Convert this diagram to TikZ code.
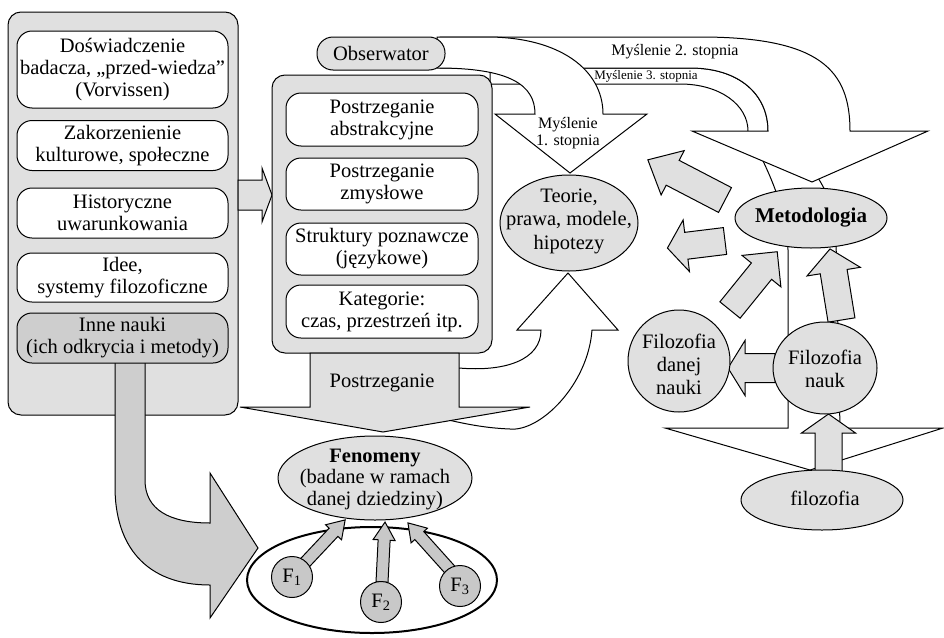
\documentclass[tikz,border=0pt]{standalone}
\usepackage{fontspec}
\setmainfont{Liberation Serif}
\usetikzlibrary{shapes.geometric}
\definecolor{lg}{RGB}{224,224,224}
\definecolor{mg}{RGB}{206,206,206}
\definecolor{fg}{RGB}{200,200,200}
\tikzset{
  base/.style={line width=1pt, draw=black},
  bigbox/.style={base, fill=lg, rounded corners=13pt, inner sep=0pt},
  ibox/.style={base, fill=white, rounded corners=15pt, align=center, inner sep=1pt, minimum width=211pt},
  pbox/.style={base, fill=white, rounded corners=15pt, align=center, inner sep=1pt, minimum width=192pt},
  ell/.style={base, ellipse, fill=lg, inner sep=0pt},
  txt/.style={align=center, inner sep=0pt},
  garr/.style={base, fill=lg, line join=miter},
  warr/.style={base, fill=white, line join=miter},
  farr/.style={base, fill=fg, line join=miter},
}
\newcommand\grarrow[8]{%
  \begin{scope}[shift={(#2,#3)},rotate=#4]
    \filldraw[#1] (0,-#6) -- ({#5-#8},-#6) -- ({#5-#8},-#7) -- (#5,0) -- ({#5-#8},#7) -- ({#5-#8},#6) -- (0,#6) -- cycle;
  \end{scope}}
\begin{document}
\begin{tikzpicture}[x=1pt,y=-1pt,font=\fontsize{20.5}{22}\selectfont]
\useasboundingbox (0,0) rectangle (944,637);

% ---------- left column
\node[bigbox, minimum width=230pt, minimum height=403pt] (left) at (123,213.5) {};
\node[ibox, minimum height=77pt] (dos) at (122.5,69.5) {Doświadczenie\\badacza, „przed-wiedza”\\(Vorvissen)};
\node[ibox, minimum height=50pt] (zak) at (122.5,145.5) {Zakorzenienie\\kulturowe, społeczne};
\node[ibox, minimum height=50pt] (his) at (122.5,213) {Historyczne\\uwarunkowania};
\node[ibox, minimum height=49pt] (ide) at (122.5,277.5) {Idee,\\systemy filozoficzne};
% big curved arrow from Inne nauki
\filldraw[base, fill=mg, line join=miter] (115,360) -- (115,487) .. controls (115,545) and (145,585) .. (210,585) -- (210,618) -- (258,548) -- (210,473) -- (210,523) .. controls (170,523) and (145,510) .. (145,480) -- (145,360) -- cycle;
\node[ibox, fill=mg, minimum height=50pt] (inne) at (122.5,338) {Inne nauki\\(ich odkrycia i metody)};
% arrow left column -> perception box
\grarrow{garr}{238}{195}{0}{34}{15}{27}{10}

% ---------- thinking arrows (3rd and 2nd order)
\filldraw[warr] (490,68) -- (690,68) .. controls (740,68) and (768,95) .. (768,131) .. controls (800,150) and (836,185) .. (836,240) -- (840,428) -- (943,428) -- (810,470) -- (665,428) -- (788,428) -- (788,250) .. controls (787,200) and (757,150) .. (748,131) .. controls (748,105) and (720,84) .. (680,84) -- (490,84) -- cycle;
\filldraw[warr] (440,37) -- (700,37) .. controls (820,37) and (850,70) .. (850,131) -- (928,131) -- (812,182) -- (692,131) -- (768,131) .. controls (768,95) and (740,68) .. (690,68) -- (440,68) -- cycle;

% ---------- perception box
\node[bigbox, minimum width=220pt, minimum height=278pt] (pbox) at (382,214) {};
\node[pbox, minimum height=53pt] (pa) at (382,119.5) {Postrzeganie\\abstrakcyjne};
\node[pbox, minimum height=52pt] (pz) at (382,184) {Postrzeganie\\zmysłowe};
\node[pbox, minimum height=52pt] (sp) at (382,249) {Struktury poznawcze\\(językowe)};
\node[pbox, minimum height=53pt] (kat) at (382,311.5) {Kategorie:\\czas, przestrzeń itp.};

% ---------- 1st order thinking
\filldraw[warr] (437,68) .. controls (510,68) and (535,85) .. (535,114) -- (495,114) -- (570,173) -- (647,114) -- (603,114) .. controls (603,70) and (560,37) .. (487,37) -- (437,37) -- cycle;
\node[base, fill=lg, rounded corners=16pt, minimum width=128pt, minimum height=33pt, inner sep=0pt] (obs) at (381,53.5) {Obserwator};

\node[txt, font=\fontsize{16}{16}\selectfont] (m2) at (675,52) {Myślenie 2. stopnia};
\node[txt, font=\fontsize{13}{13}\selectfont] (m3) at (646,76) {Myślenie 3. stopnia};
\node[txt, font=\fontsize{16}{16.5}\selectfont] (m1) at (568,133) {Myślenie\\1. stopnia};

% ---------- perception arrow and arrow to theories
\filldraw[warr] (445,395) -- (459,368) .. controls (505,372) and (541,360) .. (541,330) -- (517,330) -- (568,273) -- (618,330) -- (592,330) .. controls (588,385) and (540,432) .. (510,429) .. controls (485,428) and (465,424) .. (440,418) -- cycle;
\filldraw[garr] (310,353) -- (459,353) -- (459,407) -- (530,407) -- (383,432) -- (240,407) -- (310,407) -- cycle;
\node[txt] (post) at (382,383) {Postrzeganie};

\node[ell, minimum width=138pt, minimum height=96pt] (teorie) at (569,223) {};
\node[txt, font=\fontsize{20.5}{23.5}\selectfont] at (569,221) {Teorie,\\prawa, modele,\\hipotezy};

% ---------- right cluster arrows
\grarrow{garr}{725}{200}{152.5}{87}{14}{25}{28}
\grarrow{garr}{725}{241}{187}{58}{13.5}{26}{19}
\grarrow{garr}{730}{310}{51}{75}{13}{25}{25}
\grarrow{garr}{841.5}{320}{99.2}{72}{13.6}{27}{23}
\grarrow{garr}{775}{368}{180}{47}{14.5}{27.5}{17}
\grarrow{garr}{828.5}{472}{90}{58}{13.5}{27}{19}

\node[ell, minimum width=152pt, minimum height=60pt] (met) at (811,218) {};
\node[txt, font=\fontsize{21}{22}\selectfont\bfseries] at (met) {Metodologia};
\node[ell, minimum width=102pt, minimum height=102pt] (fdn) at (679,361) {};
\node[txt, font=\fontsize{20.5}{23}\selectfont] at (679,364) {Filozofia\\danej\\nauki};
\node[ell, minimum width=104pt, minimum height=92pt] (fn) at (825,368) {};
\node[txt, font=\fontsize{20.5}{23}\selectfont] at (825,368.5) {Filozofia\\nauk};
\node[ell, minimum width=162pt, minimum height=60pt] (fil) at (822,500) {};
\node[txt] at (825,498) {filozofia};

% ---------- phenomena
\node[draw, line width=2pt, ellipse, minimum width=250pt, minimum height=106pt, inner sep=0pt] (field) at (372,580) {};
\grarrow{farr}{300}{568}{46.8}{66}{6}{11}{17}
\grarrow{farr}{382}{582}{87.1}{60}{6}{11}{18}
\grarrow{farr}{452}{572}{131.9}{66}{6}{11}{17}
\node[ell, minimum width=194pt, minimum height=84pt] (fen) at (375,478) {};
\node[txt, font=\fontsize{20.5}{21.5}\selectfont] at (375,479) {\textbf{Fenomeny}\\(badane w ramach\\danej dziedziny)};
\node[ell, fill=fg, minimum width=41pt, minimum height=41pt] (f1) at (292,577) {F\textsubscript{1}};
\node[ell, fill=fg, minimum width=41pt, minimum height=41pt] (f2) at (381,602) {F\textsubscript{2}};
\node[ell, fill=fg, minimum width=41pt, minimum height=41pt] (f3) at (460,586) {F\textsubscript{3}};
\end{tikzpicture}
\end{document}
